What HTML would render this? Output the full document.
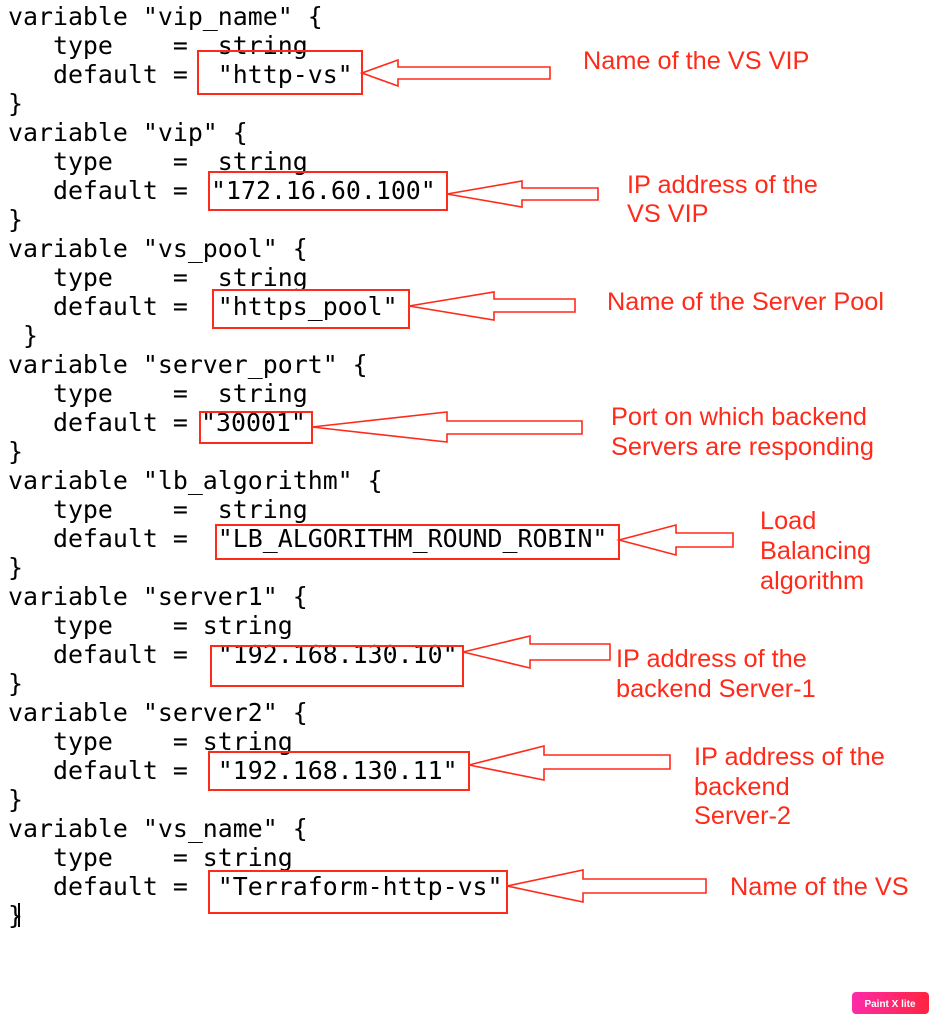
<!DOCTYPE html>
<html><head><meta charset="utf-8"><style>
html,body{margin:0;padding:0;background:#fff;width:939px;height:1024px;overflow:hidden}
svg{display:block}
.c text{font-family:"DejaVu Sans Mono","Liberation Mono",monospace;font-size:24.9px;fill:#000;white-space:pre}
.r{font-family:"Liberation Sans",sans-serif;font-size:25.3px;fill:#ff2a1a}
.b{fill:none;stroke:#ff2a1a;stroke-width:2}
.a{fill:#fff;stroke:#ff2a1a;stroke-width:1.6}
</style></head><body>
<svg width="939" height="1024" viewBox="0 0 939 1024">
<g class="c">
<text x="8" y="25">variable "vip_name" {</text>
<text x="8" y="54">   type    =  string</text>
<text x="8" y="83">   default =  "http-vs"</text>
<text x="8" y="112">}</text>
<text x="8" y="141">variable "vip" {</text>
<text x="8" y="170">   type    =  string</text>
<text x="8" y="199">   default =</text><text x="211" y="199">"172.16.60.100"</text>
<text x="8" y="228">}</text>
<text x="8" y="257">variable "vs_pool" {</text>
<text x="8" y="286">   type    =  string</text>
<text x="8" y="315">   default =  "https_pool"</text>
<text x="8" y="344"> }</text>
<text x="8" y="373">variable "server_port" {</text>
<text x="8" y="402">   type    =  string</text>
<text x="8" y="431">   default =</text><text x="201" y="431">"30001"</text>
<text x="8" y="460">}</text>
<text x="8" y="489">variable "lb_algorithm" {</text>
<text x="8" y="518">   type    =  string</text>
<text x="8" y="547">   default =  "LB_ALGORITHM_ROUND_ROBIN"</text>
<text x="8" y="576">}</text>
<text x="8" y="605">variable "server1" {</text>
<text x="8" y="634">   type    = string</text>
<text x="8" y="663">   default =  "192.168.130.10"</text>
<text x="8" y="692">}</text>
<text x="8" y="721">variable "server2" {</text>
<text x="8" y="750">   type    = string</text>
<text x="8" y="779">   default =  "192.168.130.11"</text>
<text x="8" y="808">}</text>
<text x="8" y="837">variable "vs_name" {</text>
<text x="8" y="866">   type    = string</text>
<text x="8" y="895">   default =  "Terraform-http-vs"</text>
<text x="8" y="924">}</text>
</g>
<rect x="18" y="903" width="2" height="24" fill="#000"/>

<rect class="b" x="198" y="51" width="164" height="43"/>
<polygon class="a" points="362,73 398,60 398,67 550,67 550,79 398,79 398,86"/>
<rect class="b" x="209" y="172" width="238" height="38"/>
<polygon class="a" points="447,194 522,181 522,188 598,188 598,200 522,200 522,207"/>
<rect class="b" x="213" y="290" width="196" height="38"/>
<polygon class="a" points="409,306 494,292 494,299 575,299 575,312 494,312 494,320"/>
<rect class="b" x="200" y="412" width="112" height="31"/>
<polygon class="a" points="312,427 447,412 447,421 582,421 582,434 447,434 447,442"/>
<rect class="b" x="216" y="525" width="403" height="34"/>
<polygon class="a" points="619,540 676,525 676,533 733,533 733,547 676,547 676,555"/>
<rect class="b" x="211" y="646" width="252" height="40"/>
<polygon class="a" points="463,652 530,636 530,644 610,644 610,660 530,660 530,668"/>
<rect class="b" x="209" y="752" width="260" height="38"/>
<polygon class="a" points="469,765 544,746 544,755 670,755 670,769 544,769 544,780"/>
<rect class="b" x="209" y="871" width="298" height="42"/>
<polygon class="a" points="507,886 583,870 583,879 706,879 706,893 583,893 583,902"/>

<g class="r">
<text x="583" y="69">Name of the VS VIP</text>
<text x="627" y="193">IP address of the</text>
<text x="627" y="222">VS VIP</text>
<text x="607" y="310">Name of the Server Pool</text>
<text x="611" y="425">Port on which backend</text>
<text x="611" y="455">Servers are responding</text>
<text x="760" y="529">Load</text>
<text x="760" y="559">Balancing</text>
<text x="760" y="589">algorithm</text>
<text x="616" y="667">IP address of the</text>
<text x="616" y="697">backend Server-1</text>
<text x="694" y="765">IP address of the</text>
<text x="694" y="795">backend</text>
<text x="694" y="824">Server-2</text>
<text x="730" y="895">Name of the VS</text>
</g>
<defs><linearGradient id="g" x1="0" x2="1"><stop offset="0" stop-color="#ff2aa8"/><stop offset="1" stop-color="#ff2440"/></linearGradient></defs>
<rect x="852" y="992" width="77" height="22" rx="4" fill="url(#g)"/>
<text x="890" y="1007" text-anchor="middle" font-family="Liberation Sans,sans-serif" font-size="10" font-weight="bold" fill="#fff">Paint X lite</text>
</svg>
</body></html>
